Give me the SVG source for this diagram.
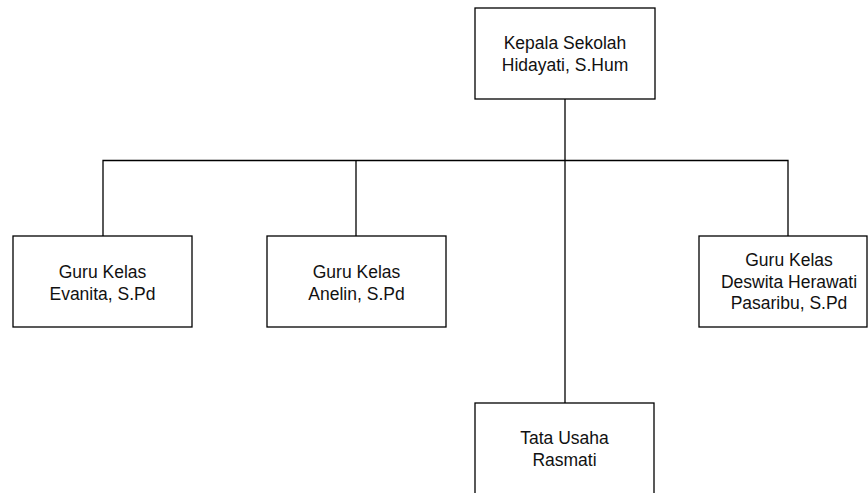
<svg xmlns="http://www.w3.org/2000/svg" width="868" height="493" viewBox="0 0 868 493">
<style>
.box{fill:#fff;stroke:#000;stroke-width:1.3}
.lbl{font-family:"Liberation Sans",Arial,sans-serif;font-size:17.5px;fill:#111;text-anchor:middle}
.conn{fill:none;stroke:#000;stroke-width:1.3}
</style>
<rect width="868" height="493" fill="#fff"/>
<g id="connectors">
<path class="conn" d="M565 99V403"/>
<path class="conn" d="M103 236V160.5H788V236"/>
<path class="conn" d="M356 160.5V236"/>
</g>
<g id="kepala">
<rect class="box" x="475" y="8" width="180" height="91"/>
<text class="lbl" x="565" y="49">Kepala Sekolah</text>
<text class="lbl" x="565" y="71">Hidayati, S.Hum</text>
</g>
<g id="guru1">
<rect class="box" x="13" y="236" width="179" height="91"/>
<text class="lbl" x="102.5" y="277.5">Guru Kelas</text>
<text class="lbl" x="102.5" y="299.5">Evanita, S.Pd</text>
</g>
<g id="guru2">
<rect class="box" x="267" y="236" width="179" height="91"/>
<text class="lbl" x="356.5" y="277.5">Guru Kelas</text>
<text class="lbl" x="356.5" y="299.5">Anelin, S.Pd</text>
</g>
<g id="guru3">
<rect class="box" x="699" y="236" width="168" height="91"/>
<text class="lbl" x="789" y="266">Guru Kelas</text>
<text class="lbl" x="789" y="287.5">Deswita Herawati</text>
<text class="lbl" x="789" y="309">Pasaribu, S.Pd</text>
</g>
<g id="tatausaha">
<rect class="box" x="475" y="403" width="179" height="91"/>
<text class="lbl" x="564.5" y="443.5">Tata Usaha</text>
<text class="lbl" x="564.5" y="465.5">Rasmati</text>
</g>
</svg>
